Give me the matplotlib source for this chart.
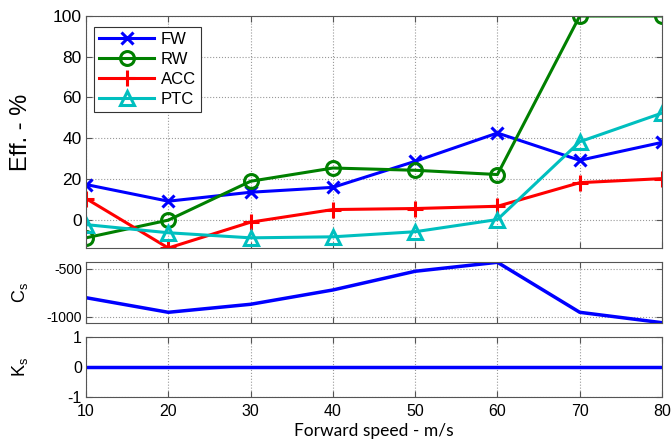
import numpy as np
import matplotlib
matplotlib.use("Agg")
import matplotlib.pyplot as plt

# forward speed (m/s)
speed = [10, 20, 30, 40, 50, 60, 70, 80]

# efficiencies, %
eff_fw = [17.2, 9.0, 13.4, 15.8, 28.6, 42.5, 29.1, 37.9]
eff_rw = [-9.0, -0.3, 18.8, 25.3, 24.2, 22.1, 100.0, 100.0]
eff_acc = [10.3, -14.0, -1.3, 4.9, 5.4, 6.5, 18.1, 20.1]
eff_ptc = [-2.5, -6.5, -9.0, -8.5, -6.0, 0.0, 38.2, 52.3]

# damping / stiffness
c_s = [-801, -954, -870, -720, -524, -430, -954, -1063]
k_s = [0, 0, 0, 0, 0, 0, 0, 0]

plt.rcParams['font.family'] = ['Liberation Sans', 'DejaVu Sans']
plt.rcParams['axes.unicode_minus'] = False
spine_col = '#555555'

fig = plt.figure(figsize=(6.71, 4.48), dpi=100)
ax1 = fig.add_axes([0.1282, 0.4464, 0.8584, 0.5179])
ax2 = fig.add_axes([0.1282, 0.2797, 0.8584, 0.1348])
ax3 = fig.add_axes([0.1282, 0.1145, 0.8584, 0.1326])

lw = 2.2
ax1.plot(speed, eff_fw, color='#0000ff', lw=lw, marker='x', ms=8, mew=2.2, label='FW')
ax1.plot(speed, eff_rw, color='#008000', lw=lw, marker='o', ms=10, mew=2.2,
         mfc='none', label='RW')
ax1.plot(speed, eff_acc, color='#ff0000', lw=lw, marker='+', ms=12, mew=2.2, label='ACC')
ax1.plot(speed, eff_ptc, color='#00bfbf', lw=lw, marker='^', ms=10, mew=2.2,
         mfc='none', label='PTC')
ax1.set_ylim(-14, 100)
ax1.set_yticks([0, 20, 40, 60, 80, 100])
ax1.set_ylabel('Eff. - %', fontsize=17)
ax1.yaxis.set_label_coords(-0.093, 0.5)
ax1.tick_params(labelsize=12.5)
ax1.set_xticklabels([])
leg = ax1.legend(loc='upper left', bbox_to_anchor=(0.0, 0.99), fontsize=12,
                 fancybox=False, edgecolor='#333333', framealpha=1,
                 handlelength=3.3, borderpad=0.3, labelspacing=0.3,
                 handletextpad=0.4, borderaxespad=0.5)
leg.get_frame().set_linewidth(0.8)

ax2.plot(speed, c_s, color='#0000ff', lw=2.5)
ax2.set_ylim(-1063, -430)
ax2.set_yticks([-1000, -500])
ax2.set_ylabel('C$_\\mathregular{s}$', fontsize=13)
ax2.yaxis.set_label_coords(-0.098, 0.5)
ax2.tick_params(labelsize=10)
ax2.set_xticklabels([])

ax3.plot(speed, k_s, color='#0000ff', lw=2.5)
ax3.set_ylim(-1, 1)
ax3.set_yticks([-1, 0, 1])
ax3.set_ylabel('K$_\\mathregular{s}$', fontsize=13)
ax3.yaxis.set_label_coords(-0.098, 0.5)
ax3.tick_params(labelsize=11.5)
ax3.set_xlabel('Forward speed - m/s', fontsize=12.5, family=['Lato', 'DejaVu Sans'],
               labelpad=3)

for ax in (ax1, ax2, ax3):
    ax.set_xlim(10, 80)
    ax.set_xticks(speed)
    ax.grid(True, linestyle=':', color='#999999', linewidth=0.8)
    ax.tick_params(direction='in', length=4, color=spine_col, top=True, right=True,
                   pad=3)
    for sp in ax.spines.values():
        sp.set_color(spine_col)
        sp.set_linewidth(0.8)
ax3.tick_params(axis='x', pad=5)

fig.savefig('out.png', dpi=100)
